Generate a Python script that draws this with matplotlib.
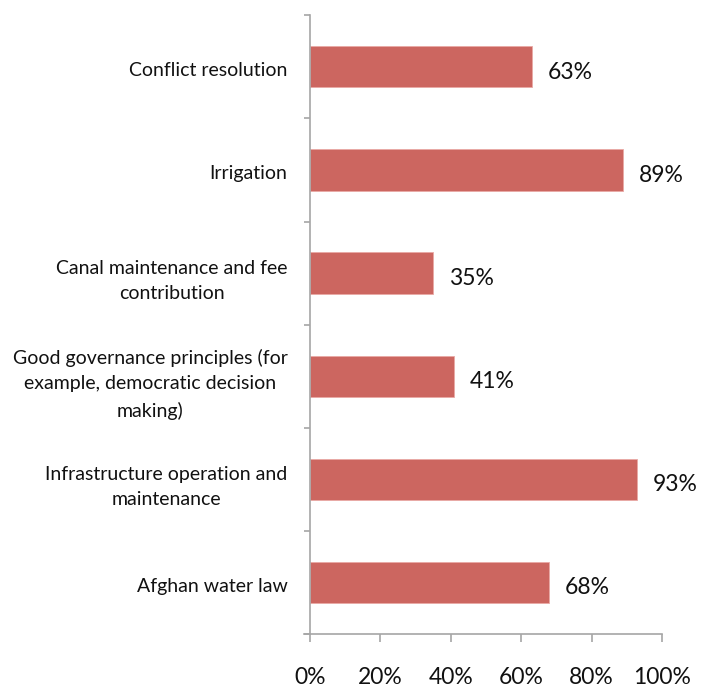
import matplotlib
matplotlib.use("Agg")
import matplotlib.pyplot as plt
from matplotlib.ticker import FuncFormatter, FixedLocator

plt.rcParams['font.family'] = ['Lato', 'DejaVu Sans']

categories = [
    "Afghan water law",
    "Infrastructure operation and\nmaintenance",
    "Good governance principles (for\nexample, democratic decision\nmaking)",
    "Canal maintenance and fee\ncontribution",
    "Irrigation",
    "Conflict resolution",
]
values = [68, 93, 41, 35, 89, 63]
x_ticks = [0, 20, 40, 60, 80, 100]

bar_color = "#CC6660"
axis_color = "#A6A6A6"

fig = plt.figure(figsize=(7.01, 6.89), dpi=100)
ax = fig.add_axes([0.4418, 0.0798, 0.5026, 0.898])

y = list(range(len(categories)))
ax.barh(y, values, height=0.4, color=bar_color, edgecolor="#E9A9A5", linewidth=0.6)

ax.set_xlim(0, 100)
ax.set_ylim(-0.5, len(categories) - 0.5)

for yi, v in zip(y, values):
    ax.text(v + 4.5, yi - 0.05, f"{v}%", va="center", ha="left", fontsize=16.5, color="#111111")

ax.xaxis.set_major_locator(FixedLocator(x_ticks))
ax.xaxis.set_major_formatter(FuncFormatter(lambda v, p: f"{v:.0f}%"))
ax.tick_params(axis="x", direction="out", length=5.8, width=1.2, color=axis_color,
               labelsize=16.5, pad=18, labelcolor="#111111")

# category labels at bar centres, boundary ticks between categories
ax.set_yticks([yi - 0.02 for yi in y])
ax.set_yticklabels(categories, fontsize=14, color="#111111", multialignment="center",
                   linespacing=1.6)
ax.tick_params(axis="y", which="major", length=0, pad=16)
ax.set_yticks([i - 0.5 for i in range(len(categories) + 1)], minor=True)
ax.tick_params(axis="y", which="minor", direction="out", length=4.3, width=1.2, color=axis_color)

for side in ("top", "right"):
    ax.spines[side].set_visible(False)
for side in ("left", "bottom"):
    ax.spines[side].set_color(axis_color)
    ax.spines[side].set_linewidth(1.2)
ax.spines["bottom"].set_bounds(-1.5, 100)

fig.savefig("out.png", dpi=100, facecolor="white")
